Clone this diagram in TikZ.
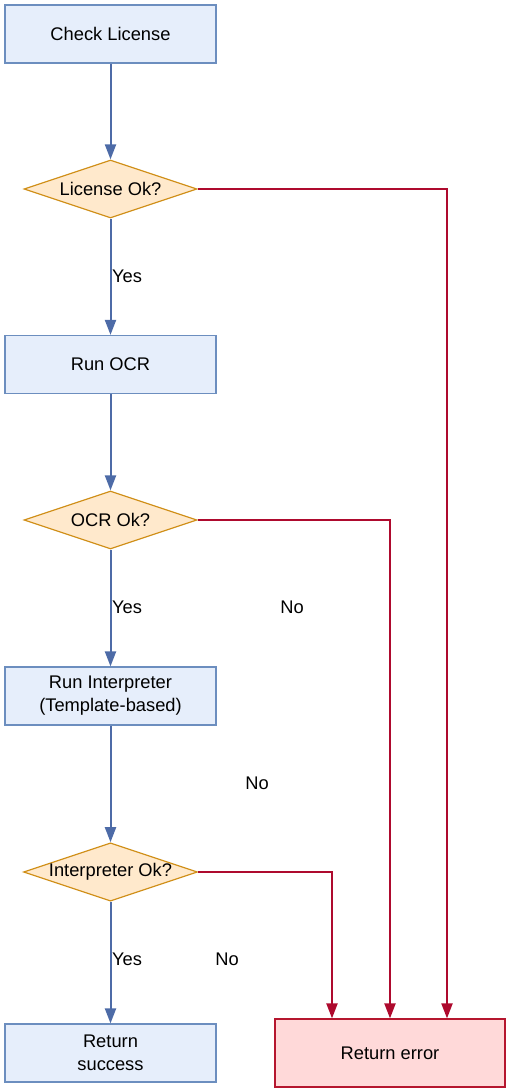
\documentclass[tikz,border=0pt]{standalone}
\usepackage{fontspec}
\setmainfont{Liberation Sans}
\usetikzlibrary{shapes.geometric,arrows.meta}
\definecolor{boxfill}{HTML}{E6EEFB}
\definecolor{boxline}{HTML}{6C8EBF}
\definecolor{decfill}{HTML}{FFE9CC}
\definecolor{decline}{HTML}{D08F18}
\definecolor{errfill}{HTML}{FFD9D9}
\definecolor{errline}{HTML}{B5162E}
\definecolor{flowblue}{HTML}{4D6BA7}
\definecolor{flowred}{HTML}{AE0A2E}
\tikzset{
  procbox/.style={draw=boxline, fill=boxfill, line width=1.2pt, minimum width=211pt, minimum height=58pt, inner sep=0pt, align=center, font=\fontsize{18.3pt}{23pt}\selectfont},
  decbox/.style={diamond, aspect=2.98, draw=decline, fill=decfill, line width=1.2pt, minimum width=173pt, minimum height=58pt, inner sep=0pt, font=\fontsize{18.3pt}{23pt}\selectfont},
  errbox/.style={draw=errline, fill=errfill, line width=1.2pt, minimum width=230pt, minimum height=68pt, inner sep=0pt, font=\fontsize{18.3pt}{23pt}\selectfont},
  yesflow/.style={draw=flowblue, line width=2pt, -{Triangle[length=15pt,width=11pt]}},
  noflow/.style={draw=flowred, line width=2pt, -{Triangle[length=15pt,width=11pt]}},
  lbl/.style={font=\fontsize{18.3pt}{23pt}\selectfont, inner sep=0pt}
}
\begin{document}
\begin{tikzpicture}[x=1pt,y=-1pt]
\useasboundingbox (0,0) rectangle (511,1092);
\node[procbox] (check) at (110.5,34) {Check License};
\node[decbox] (lic) at (110.5,189) {License Ok?};
\node[procbox] (ocr) at (110.5,364.5) {Run OCR};
\node[decbox] (ocrok) at (110.5,520) {OCR Ok?};
\node[procbox] (interp) at (110.5,696) {Run Interpreter\\(Template-based)};
\node[decbox] (interpok) at (110.5,872) {Interpreter Ok?};
\node[procbox] (succ) at (110.5,1053) {Return\\success};
\node[errbox] (err) at (390,1053) {Return error};

\draw[yesflow] (check) -- (lic);
\draw[yesflow] (lic) -- (ocr);
\draw[yesflow] (ocr) -- (ocrok);
\draw[yesflow] (ocrok) -- (interp);
\draw[yesflow] (interp) -- (interpok);
\draw[yesflow] (interpok) -- (succ);

\draw[noflow] (lic.east) -| (err.north -| 447,0);
\draw[noflow] (ocrok.east) -| (err.north);
\draw[noflow] (interpok.east) -| (err.north -| 332,0);

\node[lbl] (y1) at (127,276) {Yes};
\node[lbl] (y2) at (127,607) {Yes};
\node[lbl] (y3) at (127,959) {Yes};
\node[lbl] (n1) at (292,607) {No};
\node[lbl] (n2) at (257,783) {No};
\node[lbl] (n3) at (227,959) {No};
\end{tikzpicture}
\end{document}
